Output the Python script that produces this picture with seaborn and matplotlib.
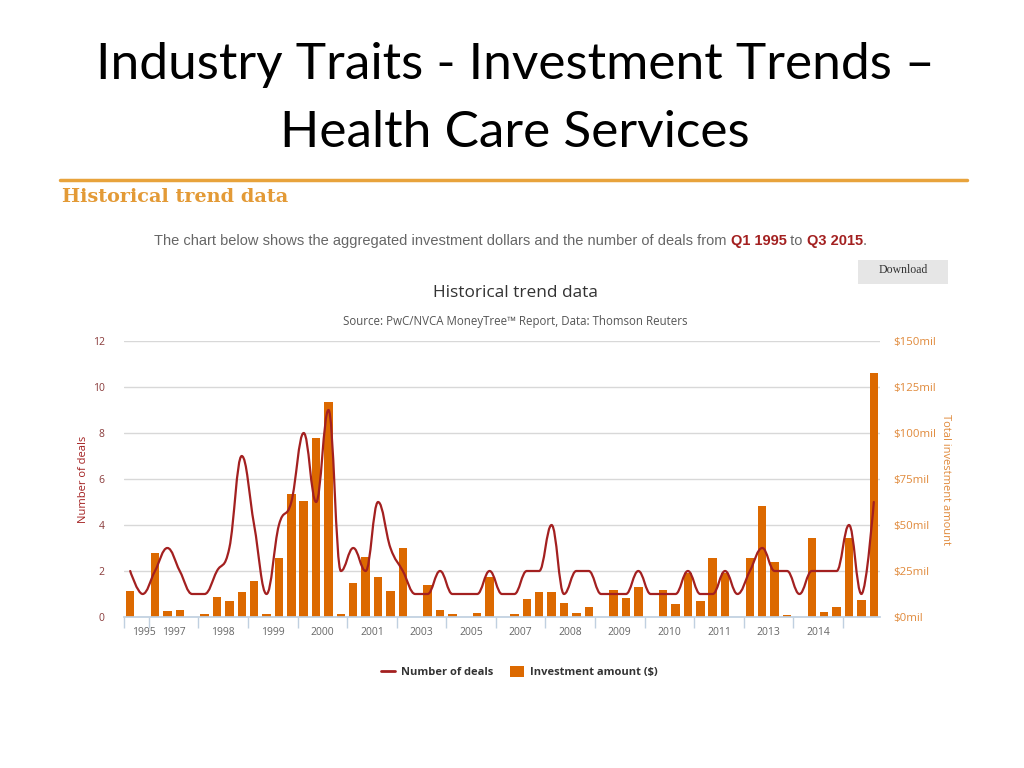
"""
Health care services - historical trend data (PwC/NVCA MoneyTree)
Bars: investment amount per quarter, spline: number of deals.
"""

import numpy as np
import pandas as pd
import matplotlib
matplotlib.use('Agg')
import matplotlib.pyplot as plt
import seaborn as sns
from matplotlib.path import Path
from matplotlib.patches import PathPatch, Patch, Rectangle
from matplotlib.lines import Line2D

# --- data (one entry per quarter with activity) ---
investment_mil = [14.0, 0, 34.8, 3.4, 4.0, 0, 1.5, 10.7, 8.5, 13.6,
                  19.7, 1.5, 31.9, 66.6, 63.0, 97.3, 117.0, 1.8, 18.6, 32.6,
                  22.0, 14.0, 37.7, 0, 17.6, 4.0, 1.5, 0, 2.3, 22.0,
                  0, 1.8, 10.0, 13.4, 13.4, 7.6, 2.3, 5.6, 0, 14.7,
                  10.5, 16.5, 0, 14.7, 7.0, 23.7, 8.5, 32.2, 23.7, 0,
                  32.2, 60.5, 29.7, 0.9, 0, 42.7, 2.7, 5.6, 42.7, 9.4,
                  132.4]
deals = [2, 1, 2, 3, 2, 1, 1, 2, 3, 7,
         4, 1, 4, 5, 8, 5, 9, 2, 3, 2,
         5, 3, 2, 1, 1, 2, 1, 1, 1, 2,
         1, 1, 2, 2, 4, 1, 2, 2, 1, 1,
         1, 2, 1, 1, 1, 2, 1, 1, 2, 1,
         2, 3, 2, 2, 1, 2, 2, 2, 4, 1,
         5]
year_labels = ['1995', '1997', '1998', '1999', '2000', '2001', '2003', '2005',
               '2007', '2008', '2009', '2010', '2011', '2013', '2014', '']
group_sizes = [2] + [4] * 14 + [3]
deal_ticks = [0, 2, 4, 6, 8, 10, 12]
money_ticks = [0, 25, 50, 75, 100, 125, 150]

df = pd.DataFrame({'q': np.arange(len(deals)), 'investment': investment_mil, 'deals': deals})

ORANGE = '#DC6900'
RED = '#A32020'
GRID = '#D8D8D8'

sns.set_theme(style='white')
plt.rcParams['font.family'] = ['Open Sans', 'DejaVu Sans']


def spline_path(xs, ys, smoothing=1.5):
    # Highcharts-style spline: bezier control points around each point
    n = len(xs)
    left, right = [None] * n, [None] * n
    den = smoothing + 1
    for i in range(1, n - 1):
        px, py = xs[i], ys[i]
        lx, ly = xs[i - 1], ys[i - 1]
        nx, ny = xs[i + 1], ys[i + 1]
        lcx, lcy = (smoothing * px + lx) / den, (smoothing * py + ly) / den
        rcx, rcy = (smoothing * px + nx) / den, (smoothing * py + ny) / den
        corr = (rcy - lcy) * (rcx - px) / (rcx - lcx) + py - rcy
        lcy += corr
        rcy += corr
        if lcy > ly and lcy > py:
            lcy = max(ly, py)
            rcy = 2 * py - lcy
        elif lcy < ly and lcy < py:
            lcy = min(ly, py)
            rcy = 2 * py - lcy
        if rcy > ny and rcy > py:
            rcy = max(ny, py)
            lcy = 2 * py - rcy
        elif rcy < ny and rcy < py:
            rcy = min(ny, py)
            lcy = 2 * py - rcy
        left[i] = (lcx, lcy)
        right[i] = (rcx, rcy)
    verts = [(xs[0], ys[0])]
    codes = [Path.MOVETO]
    for i in range(1, n):
        verts += [right[i - 1] or (xs[i - 1], ys[i - 1]), left[i] or (xs[i], ys[i]), (xs[i], ys[i])]
        codes += [Path.CURVE4] * 3
    return Path(verts, codes)


fig = plt.figure(figsize=(10.24, 7.68), dpi=100)
fig.patch.set_facecolor('white')

# slide header
fig.text(0.503, 1 - 65 / 768, 'Industry Traits - Investment Trends –', ha='center', va='center',
         fontsize=37, family=['Lato', 'DejaVu Sans'], color='black')
fig.text(0.503, 1 - 133 / 768, 'Health Care Services', ha='center', va='center',
         fontsize=37, family=['Lato', 'DejaVu Sans'], color='black')
fig.add_artist(Line2D([60 / 1024, 967 / 1024], [1 - 180 / 768] * 2, color='#E8A33C', lw=2.5))
fig.text(62 / 1024, 1 - 197 / 768, 'Historical trend data', ha='left', va='center', fontsize=13.9,
         fontweight='bold', family=['DejaVu Serif'], color='#E39A36')

# sentence with highlighted dates
bg = fig.add_axes([0, 0, 1, 1], zorder=-5)
bg.axis('off')
parts = [('The chart below shows the aggregated investment dollars and the number of deals from ', '#666666', 'normal'),
         ('Q1 1995', RED, 'bold'), (' to ', '#666666', 'normal'), ('Q3 2015', RED, 'bold'), ('.', '#666666', 'normal')]
prev = bg.text(154 / 1024, 1 - 241 / 768, parts[0][0], ha='left', va='center', fontsize=10.55,
               color=parts[0][1], family=['Liberation Sans', 'DejaVu Sans'])
for txt, col, w in parts[1:]:
    prev = bg.annotate(txt, xy=(1, 0), xycoords=prev, va='bottom', ha='left', fontsize=10.55,
                       color=col, fontweight=w, family=['Liberation Sans', 'DejaVu Sans'])

# download button
bg.add_patch(Rectangle((858 / 1024, 1 - 284 / 768), 90 / 1024, 24 / 768, transform=bg.transAxes,
                       facecolor='#E6E6E6', edgecolor='none'))
bg.text(903 / 1024, 1 - 270 / 768, 'Download', ha='center', va='center', fontsize=8.5,
        family=['Liberation Serif', 'DejaVu Serif'], color='#333333')

fig.text(515 / 1024, 1 - 293 / 768, 'Historical trend data', ha='center', va='center', fontsize=12.4, color='#333333')
fig.text(515 / 1024, 1 - 322 / 768, 'Source: PwC/NVCA MoneyTree™ Report, Data: Thomson Reuters', ha='center',
         va='center', fontsize=8.3, color='#555555')

# --- chart ---
ax = fig.add_axes([124 / 1024, 1 - 617 / 768, 756 / 1024, 276 / 768])
sns.barplot(data=df, x='q', y='investment', ax=ax, color=ORANGE, saturation=1, width=0.68, linewidth=0)
ax.set_xlim(-0.5, len(deals) - 0.5)
ax.set_ylim(0, 150)
ax.grid(axis='y', color=GRID, lw=1)
ax.set_axisbelow(True)
for s in ['top', 'left', 'right']:
    ax.spines[s].set_visible(False)
ax.spines['bottom'].set_color('#C0D0E0')

# x axis: tick marks between year groups, labels centred in each group
edges = np.cumsum([0] + group_sizes) - 0.5
centers = (edges[:-1] + edges[1:]) / 2
centers[0] = 1.1  # first label is pushed right in the original
ax.set_xticks(edges[:-1])
ax.set_xticklabels([''] * (len(edges) - 1))
ax.set_xticks(centers, minor=True)
ax.set_xticklabels(year_labels, minor=True, fontsize=7.5, color='#666666')
ax.tick_params(axis='x', which='major', length=8, color='#C0D0E0', width=1, direction='out', bottom=True)
ax.tick_params(axis='x', which='minor', length=0, pad=7, bottom=True)
ax.set_xlabel('')

# deals spline on a twin axis drawn above the bars
ax2 = ax.twinx()
ax2.set_ylim(0, 12)
for s in ax2.spines.values():
    s.set_visible(False)
ax2.add_patch(PathPatch(spline_path(df['q'].tolist(), df['deals'].tolist()), fill=False,
                        edgecolor=RED, lw=1.6, capstyle='round', joinstyle='round'))

# investment axis on the right (after twinx, which resets tick sides)
ax.yaxis.tick_right()
ax.set_yticks(money_ticks)
ax.set_yticklabels([f'${v}mil' for v in money_ticks], color='#E0893A', fontsize=8.2)
ax.tick_params(axis='y', length=0, pad=9.5, left=False, right=True, labelleft=False, labelright=True)
ax.set_ylabel('Total investment amount', color='#E0893A', fontsize=8, rotation=-90,
              ha='center', va='center', rotation_mode='anchor')
ax.yaxis.set_label_coords((946 - 124) / 756, 0.5)

# deals axis on the left
ax2.yaxis.tick_left()
ax2.set_yticks(deal_ticks)
ax2.set_yticklabels([str(v) for v in deal_ticks], color='#8A3B3B', fontsize=7.5)
ax2.tick_params(axis='y', length=0, pad=14, left=True, right=False, labelleft=True, labelright=False)
ax2.yaxis.set_label_position('left')
ax2.set_ylabel('Number of deals', color=RED, fontsize=8, ha='center', va='center', rotation_mode='anchor')
ax2.yaxis.set_label_coords((84 - 124) / 756, 0.5)

handles = [Line2D([0], [0], color=RED, lw=2), Patch(facecolor=ORANGE, edgecolor='none')]
fig.legend(handles, ['Number of deals', 'Investment amount ($)'], loc='center', ncol=2, frameon=False,
           bbox_to_anchor=(519 / 1024, 1 - 672 / 768), prop={'size': 8, 'weight': 'bold'},
           labelcolor='#333333', handlelength=1.3, handleheight=1.1, columnspacing=1.5, handletextpad=0.5)

fig.savefig('out.png', dpi=100, facecolor='white')
